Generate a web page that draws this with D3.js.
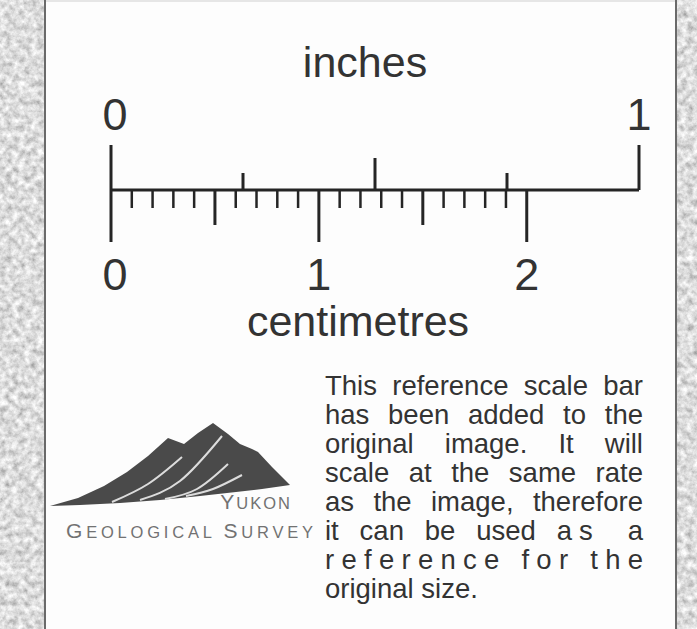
<!DOCTYPE html>
<html><head><meta charset="utf-8">
<script src="https://cdn.jsdelivr.net/npm/d3@7/dist/d3.min.js"></script>
<style>html,body{margin:0;padding:0;background:#b8b8b8;}svg{display:block;}</style>
</head><body>
<script>
// ---- data ----
const inchTicks = [0, 0.25, 0.5, 0.75, 1];
const inchLabels = ["0", "1"];
const inchLabelValues = [0, 1];
const mmTicks = [0, 0.1, 0.2, 0.3, 0.4, 0.5, 0.6, 0.7, 0.8, 0.9, 1.0,
                 1.1, 1.2, 1.3, 1.4, 1.5, 1.6, 1.7, 1.8, 1.9, 2.0];
const cmLabels = ["0", "1", "2"];
const cmLabelValues = [0, 1, 2];
const unitTitles = ["inches", "centimetres"];
const noteLines = [
  ["This reference scale bar"],
  ["has been added to the"],
  ["original image. It will"],
  ["scale at the same rate"],
  ["as the image, therefore"],
  ["it can be used ", "as a"],
  ["reference for the"],
  ["original size."]
];
const logoWords = [["Y", "UKON"], ["G", "EOLOGICAL ", "S", "URVEY"]];
const logoOutline = [[50,506],[78,498],[104,486],[127,472],[148,456],[168,438],[176,441],[184,444],
  [198,433],[213,423],[228,434],[240,444],[252,449],[258,452],[272,467],[290,485],
  [262,489],[236,492],[200,496],[160,500],[120,503],[80,505],[50,506]];
const logoStreaks = [
  [[112,502],[148,484],[182,457]],
  [[140,500],[180,481],[222,436]],
  [[165,499],[197,489],[228,464]],
  [[186,496],[213,489],[242,475]]
];

// ---- layout ----
const W = 697, H = 629;
const svg = d3.select("body").append("svg").attr("width", W).attr("height", H);
const defs = svg.append("defs");
const f = defs.append("filter").attr("id", "granite").attr("x", 0).attr("y", 0).attr("width", 1).attr("height", 1);
f.append("feTurbulence").attr("type", "fractalNoise").attr("baseFrequency", 0.16).attr("numOctaves", 4).attr("seed", 7).attr("result", "n");
f.append("feColorMatrix").attr("in", "n").attr("type", "matrix")
  .attr("values", "0.9 0 0 0 0.27  0.9 0 0 0 0.27  0.9 0 0 0 0.27  0 0 0 0 1");

svg.append("rect").attr("width", W).attr("height", H).attr("fill", "#b5b5b5");
svg.append("rect").attr("width", W).attr("height", H).attr("filter", "url(#granite)");

const panelL = 46, panelR = 675;
svg.append("rect").attr("x", panelL).attr("y", 0).attr("width", panelR - panelL).attr("height", H).attr("fill", "#fdfdfd");
svg.append("line").attr("x1", panelL - 1).attr("x2", panelL - 1).attr("y1", 0).attr("y2", H).attr("stroke", "#6a6a6a").attr("stroke-width", 2);
svg.append("line").attr("x1", panelR + 1).attr("x2", panelR + 1).attr("y1", 0).attr("y2", H).attr("stroke", "#6a6a6a").attr("stroke-width", 2);
svg.append("line").attr("x1", panelL).attr("x2", panelR).attr("y1", 1).attr("y2", 1).attr("stroke", "#e6e6e6").attr("stroke-width", 2);

const x0 = 111, x1 = 639, baseY = 190;
const xIn = d3.scaleLinear().domain([0, 1]).range([x0, x1]);
const xCm = d3.scaleLinear().domain([0, 2.54]).range([x0, x1]);
const ink = "#252525";
const font = "'Liberation Sans', Arial, sans-serif";

const g = svg.append("g");
g.append("line").attr("x1", xIn(0)).attr("x2", xIn(1)).attr("y1", baseY).attr("y2", baseY)
  .attr("stroke", ink).attr("stroke-width", 3);
const inchLen = v => (Math.abs(v - Math.round(v)) < 1e-9 ? 45 : (Math.abs(v * 2 - Math.round(v * 2)) < 1e-9 ? 32 : 17));
g.selectAll(".in").data(inchTicks).join("line")
  .attr("x1", d => xIn(d)).attr("x2", d => xIn(d))
  .attr("y1", baseY).attr("y2", d => baseY - inchLen(d))
  .attr("stroke", ink).attr("stroke-width", 3);
const mmLen = v => { const m = Math.round(v * 10); return m % 10 === 0 ? 52 : (m % 5 === 0 ? 35 : 18); };
g.selectAll(".mm").data(mmTicks).join("line")
  .attr("x1", d => xCm(d)).attr("x2", d => xCm(d))
  .attr("y1", baseY).attr("y2", d => baseY + mmLen(d))
  .attr("stroke", ink).attr("stroke-width", d => mmLen(d) > 18 ? 3 : 2.5);

g.selectAll(".inl").data(inchLabelValues).join("text")
  .attr("x", d => xIn(d) + (d === 0 ? 4 : 0)).attr("y", 130)
  .attr("text-anchor", "middle").attr("font-family", font).attr("font-size", 45).attr("fill", "#333")
  .text((d, i) => inchLabels[i]);
g.selectAll(".cml").data(cmLabelValues).join("text")
  .attr("x", d => xCm(d) + (d === 0 ? 4 : 0)).attr("y", 290)
  .attr("text-anchor", "middle").attr("font-family", font).attr("font-size", 45).attr("fill", "#333")
  .text((d, i) => cmLabels[i]);
g.append("text").attr("x", 365).attr("y", 77).attr("text-anchor", "middle")
  .attr("font-family", font).attr("font-size", 43).attr("fill", "#333").text(unitTitles[0]);
g.append("text").attr("x", 358).attr("y", 336).attr("text-anchor", "middle")
  .attr("font-family", font).attr("font-size", 43).attr("fill", "#333").text(unitTitles[1]);

// note paragraph, justified by word spacing
const noteX = 325, noteW = 318, noteY0 = 395, noteDy = 29;
const notes = svg.append("g").selectAll("text").data(noteLines).join("text")
  .attr("x", noteX).attr("y", (d, i) => noteY0 + i * noteDy)
  .attr("font-family", font).attr("font-size", 27.5).attr("fill", "#333");
notes.each(function(parts, i) {
  const t = d3.select(this);
  parts.forEach((p, j) => {
    const s = t.append("tspan").text(p);
    if (j > 0) s.attr("letter-spacing", 7);
  });
  const n = noteLines.length;
  if (i === n - 1) return;
  if (i === n - 2) {
    t.attr("textLength", noteW).attr("lengthAdjust", "spacing");
    return;
  }
  const L = this.getComputedTextLength();
  const spaces = parts.join("").split(" ").length - 1;
  const trailing = parts.length > 1 ? 7 : 0;
  t.attr("word-spacing", (noteW - L + trailing) / spaces);
});

// logo
const lg = svg.append("g");
lg.append("path").attr("d", d3.line().curve(d3.curveLinear)(logoOutline)).attr("fill", "#4a4a4a");
lg.selectAll(".streak").data(logoStreaks).join("path")
  .attr("d", d => d3.line().curve(d3.curveNatural)(d))
  .attr("fill", "none").attr("stroke", "#dcdcdc").attr("stroke-width", 2);
const yk = lg.append("text").attr("x", 292).attr("y", 509).attr("text-anchor", "end")
  .attr("font-family", font).attr("fill", "#727272").attr("letter-spacing", 2);
yk.append("tspan").attr("font-size", 21).text(logoWords[0][0]);
yk.append("tspan").attr("font-size", 16.5).text(logoWords[0][1]);
const gs = lg.append("text").attr("x", 66).attr("y", 538)
  .attr("font-family", font).attr("fill", "#727272")
  .attr("textLength", 247).attr("lengthAdjust", "spacing");
logoWords[1].forEach((w, i) => gs.append("tspan").attr("font-size", i % 2 === 0 ? 21 : 16.5).text(w));
</script>
</body></html>
